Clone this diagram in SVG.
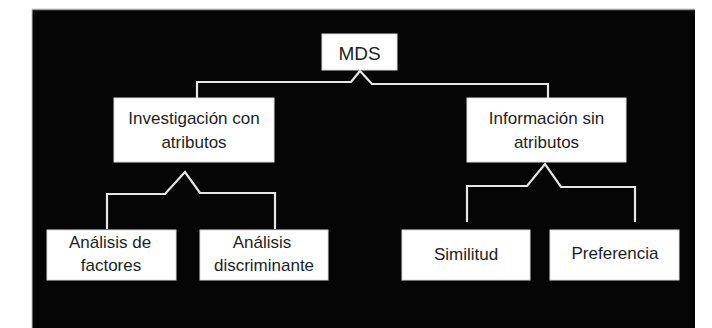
<svg xmlns="http://www.w3.org/2000/svg" width="712" height="328" viewBox="0 0 712 328">
<style>
.box{fill:#ffffff;stroke:#dddddd;stroke-width:1}
.lbl{font-family:"Liberation Sans",Arial,sans-serif;font-size:17px;fill:#1e1e1e;text-anchor:middle}
.con{fill:none;stroke:#e6e6e6;stroke-width:2.2;stroke-linejoin:miter}
</style>
<rect x="0" y="0" width="712" height="328" fill="#ffffff"/>
<rect x="32" y="9" width="663" height="319" fill="#050505"/>
<line x1="32" y1="9.5" x2="695" y2="9.5" stroke="#9a9a9a" stroke-width="1.5"/>
<line x1="32" y1="9" x2="32" y2="328" stroke="#bbbbbb" stroke-width="1"/>
<g id="connectors">
<path class="con" d="M197,99 V82 H351 L360,71 L372,84 H548 V99"/>
<path class="con" d="M107,229 V194 H165 L185,172 L200,193 H275 V229"/>
<path class="con" d="M467,222 V186 H527 L545,164 L561,187 H635 V222"/>
</g>
<g id="mds">
<rect class="box" x="322" y="34" width="75" height="36"/>
<text class="lbl" x="359.5" y="60" style="font-size:19px">MDS</text>
</g>
<g id="investigacion">
<rect class="box" x="114" y="98" width="160" height="64"/>
<text class="lbl" x="194" y="124">Investigación con</text>
<text class="lbl" x="194" y="148">atributos</text>
</g>
<g id="informacion">
<rect class="box" x="467" y="98" width="159" height="64"/>
<text class="lbl" x="546.5" y="124">Información sin</text>
<text class="lbl" x="546.5" y="148">atributos</text>
</g>
<g id="factores">
<rect class="box" x="47" y="230" width="129" height="50"/>
<text class="lbl" x="110" y="248">Análisis de</text>
<text class="lbl" x="111" y="271">factores</text>
</g>
<g id="discriminante">
<rect class="box" x="200" y="230" width="128" height="50"/>
<text class="lbl" x="262" y="248">Análisis</text>
<text class="lbl" x="264" y="271">discriminante</text>
</g>
<g id="similitud">
<rect class="box" x="402" y="230" width="128" height="50"/>
<text class="lbl" x="466" y="260">Similitud</text>
</g>
<g id="preferencia">
<rect class="box" x="550" y="230" width="129" height="50"/>
<text class="lbl" x="615" y="259">Preferencia</text>
</g>
</svg>
